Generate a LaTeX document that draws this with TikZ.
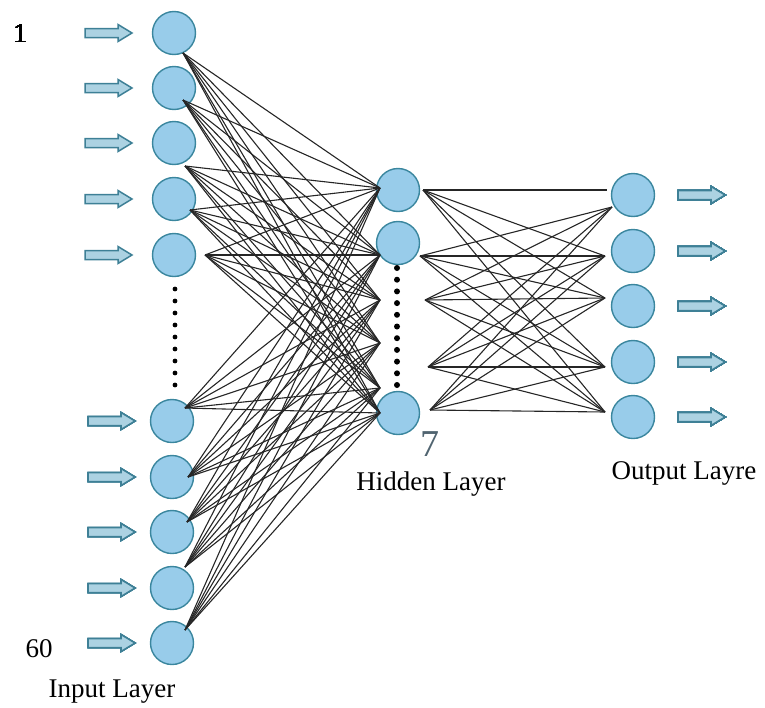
\documentclass[tikz,border=0pt]{standalone}
\usepackage{fontspec}
\setmainfont{Liberation Serif}
\newfontfamily\labelface{Liberation Serif}
\definecolor{nfill}{RGB}{152,204,234}
\definecolor{nedge}{RGB}{58,134,158}
\definecolor{afill}{RGB}{172,210,226}
\definecolor{aedge}{RGB}{62,128,150}
\definecolor{sevencol}{RGB}{80,100,112}
\tikzset{
  neuron/.style={circle, draw=nedge, fill=nfill, line width=1.4pt, minimum size=43pt, inner sep=0pt},
  conn/.style={draw=black!85, line width=1.1pt},
  blockarr/.style={draw=aedge, fill=afill, line width=1.5pt, line join=miter},
  lbl/.style={font=\labelface\fontsize{27}{30}\selectfont, anchor=base, inner sep=0pt},
  dotsty/.style={fill=black}
}
\newcommand\blockarrow[2]{%
  \filldraw[blockarr] (#1,#2-4.5) -- ++(33,0) -- ++(0,-4) -- ++(14,8.5) -- ++(-14,8.5) -- ++(0,-4) -- ++(-33,0) -- cycle;}
\begin{document}
\begin{tikzpicture}[x=1pt,y=-1pt]
\useasboundingbox (0,0) rectangle (765,707);
% input neurons
\foreach \n/\x/\y in {1/174/33,2/174/88,3/174/143,4/174/199,5/174/255,6/172/421,7/172/477,8/172/532,9/172/588,10/172/643}
  \node[neuron] (in\n) at (\x,\y) {};
% hidden neurons
\foreach \n/\y in {1/190,2/243,3/413}
  \node[neuron] (hid\n) at (398,\y) {};
% output neurons
\foreach \n/\y in {1/195,2/251,3/306,4/362,5/417}
  \node[neuron] (out\n) at (633,\y) {};
% connection points
\foreach \n/\x/\y in {1/183/53,2/183/100,3/185/166,4/190/210,5/205/255,6/185/408,7/188/477,8/187/522,9/185/567,10/185/630}
  \coordinate (s\n) at (\x,\y);
\foreach \n/\y in {1/188,2/255,3/300,4/343,5/388,6/413}
  \coordinate (hl\n) at (380,\y);
\foreach \n/\x/\y in {1/423/190,2/420/256,3/425/300,4/428/367,5/430/410}
  \coordinate (hr\n) at (\x,\y);
\coordinate (ol0) at (607,190);
\foreach \n/\x/\y in {1/612/207,2/605/256,3/605/298,4/605/367,5/605/412}
  \coordinate (ol\n) at (\x,\y);
% connectors input -> hidden
\foreach \i in {1,...,10}
  \foreach \j in {1,...,6}
    \draw[conn] (s\i) -- (hl\j);
% connectors hidden -> output
\draw[conn] (hr1) -- (ol0);
\foreach \i in {2,...,5} \draw[conn] (hr\i) -- (ol1);
\foreach \i in {1,...,5}
  \foreach \j in {2,...,5}
    \draw[conn] (hr\i) -- (ol\j);
% ellipsis dots
\foreach \k in {0,...,8} \fill[dotsty] (175,289+12*\k) circle (2.4);
\foreach \k in {0,...,10} \fill[dotsty] (397,268+11.7*\k) circle (3);
% block arrows
\foreach \y in {33,88,143,199,255} \blockarrow{85}{\y}
\foreach \y in {421,477,532,588,643} \blockarrow{88}{\y}
\foreach \y in {195,251,306,362,417} \blockarrow{678}{\y}
% labels
\node[lbl] (one) at (20,42) {1};
\node[lbl] (sixty) at (39,657) {60};
\node[lbl] (inlab) at (112,697) {Input Layer};
\node[lbl] (hidlab) at (431,490) {Hidden Layer};
\node[lbl, font=\labelface\fontsize{38}{40}\selectfont, text=sevencol] (seven) at (430,456) {7};
\node[lbl] (outlab) at (684,479) {Output Layre};
\end{tikzpicture}
\end{document}
